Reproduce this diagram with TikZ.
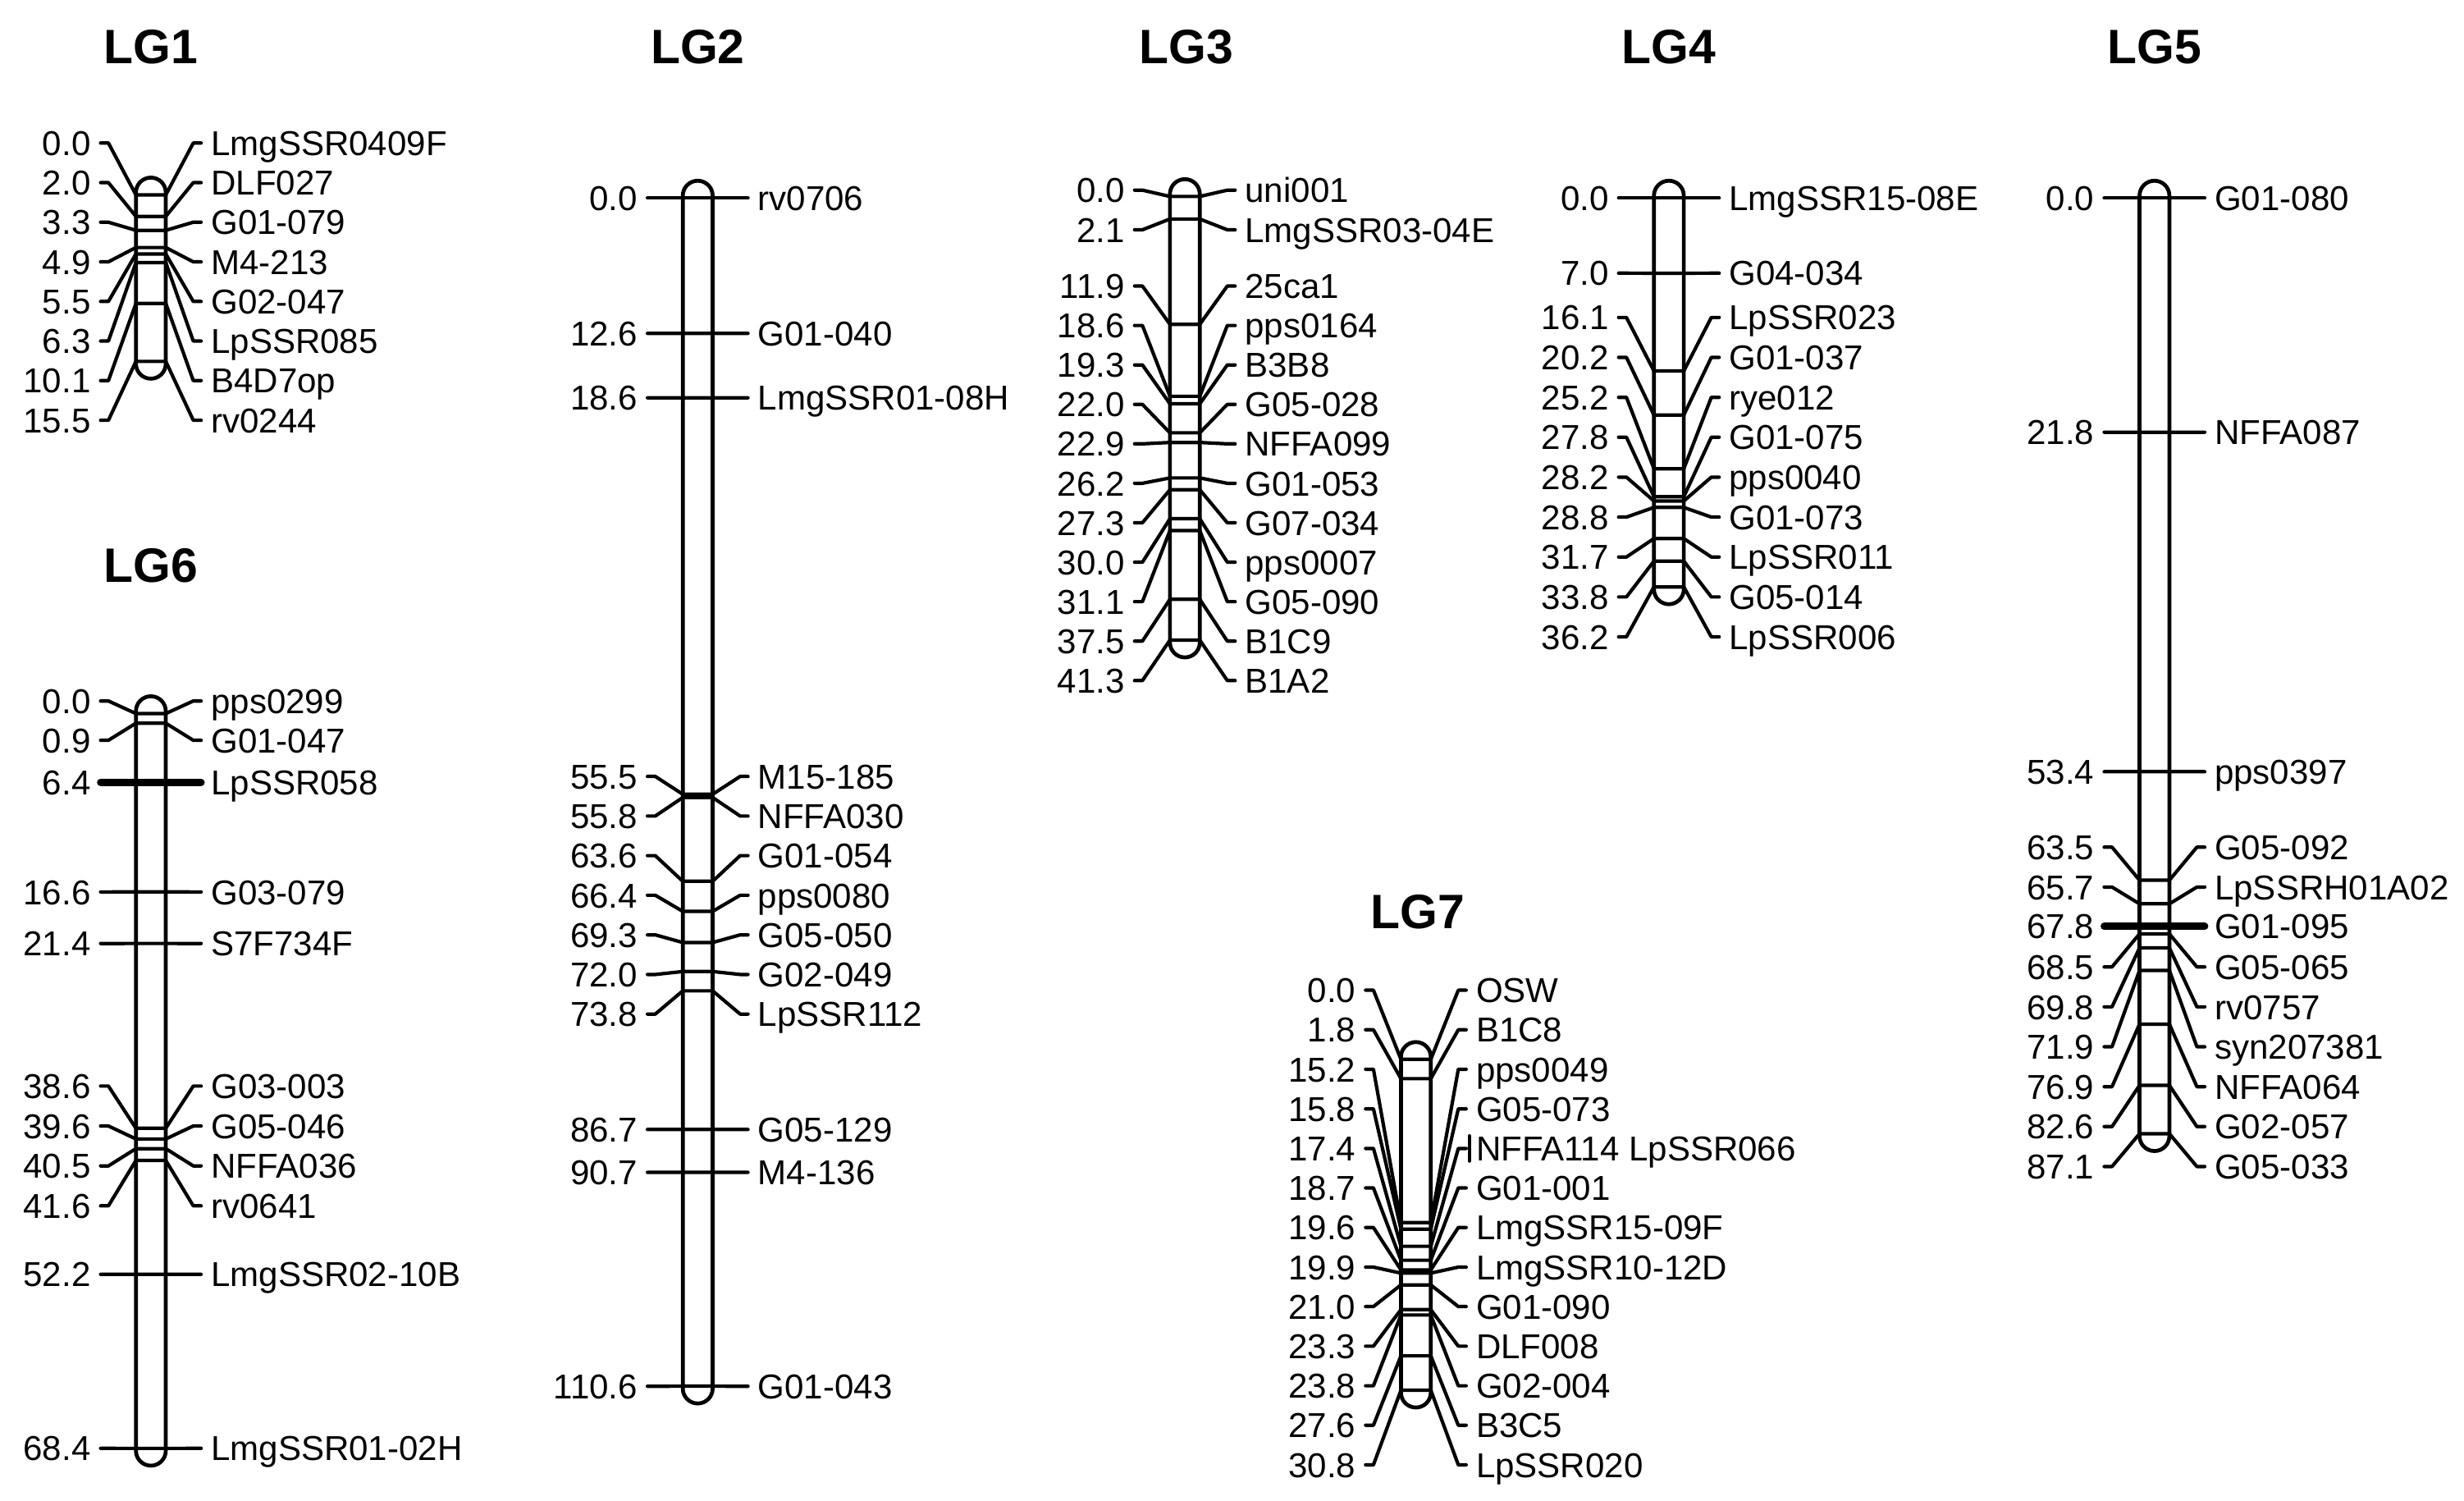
\documentclass[tikz,border=0pt]{standalone}
\usepackage{fontspec}
\setmainfont{Liberation Sans}
\usepackage{tikz}
\usetikzlibrary{calc}
\tikzset{
	chrbar/.style ={draw=black, line width=1.4pt, rounded corners=0.19cm},
	conn/.style   ={line width=1.25pt, line cap=round, line join=round},
	cmtxt/.style  ={inner sep=0pt, anchor=east, text height=9pt, text depth=0pt, font=\fontsize{12.5}{14}\selectfont},
	mktxt/.style  ={inner sep=0pt, anchor=west, text height=9pt, text depth=0pt, font=\fontsize{12.5}{14}\selectfont},
	lgtitle/.style={inner sep=0pt, font=\fontsize{17.5}{20}\selectfont\bfseries},
}
% #1 group name, #2 bar centre x, #3 y of 0 cM, #4 length in cM, #5 list cM/label y/marker
\newcommand{\lgchrom}[5]{
	\draw[chrbar] (#2-9.5,#3-11) rectangle (#2+9.5,#3+6.835*#4+11);
	\foreach \cmv/\ly/\mk [count=\i] in {#5}{
		\pgfmathsetmacro{\yy}{#3+6.835*\cmv}
		\node[cmtxt] (#1n\i) at (#2-38,\ly) {\cmv};
		\node[mktxt] (#1m\i) at (#2+38,\ly) {\mk};
		\coordinate (#1l\i) at (#2-9.5,\yy);
		\coordinate (#1r\i) at (#2+9.5,\yy);
		\draw[conn] (#1n\i.east) ++(6,0) -- ++(5,0) -- (#1l\i) -- (#1r\i) -- ($(#1m\i.west)+(-11,0)$) -- ++(5,0);
	}
}

\begin{document}
\begin{tikzpicture}[x=0.02cm, y=-0.02cm]
	\useasboundingbox (0,0) rectangle (1568,955);
	% group titles
	\node[lgtitle] (t1) at (96,30) {LG1};
	\node[lgtitle] (t2) at (444,30) {LG2};
	\node[lgtitle] (t3) at (755,30) {LG3};
	\node[lgtitle] (t4) at (1062,30) {LG4};
	\node[lgtitle] (t5) at (1371,30) {LG5};
	\node[lgtitle] (t6) at (96,360) {LG6};
	\node[lgtitle] (t7) at (902,580) {LG7};
	% linkage groups
	\lgchrom{LG1}{96}{124}{15.5}{0.0/91/LmgSSR0409F, 2.0/116.2/DLF027, 3.3/141.4/G01-079, 4.9/166.6/M4-213, 5.5/191.8/G02-047, 6.3/217/LpSSR085, 10.1/242.2/B4D7op, 15.5/267.4/rv0244}
	\lgchrom{LG2}{444}{126}{110.6}{0.0/126/rv0706, 12.6/212.1/G01-040, 18.6/253.1/LmgSSR01-08H, 55.5/494/M15-185, 55.8/519.2/NFFA030, 63.6/544.4/G01-054, 66.4/569.6/pps0080, 69.3/594.8/G05-050, 72.0/620/G02-049, 73.8/645.2/LpSSR112, 86.7/718.6/G05-129, 90.7/745.9/M4-136, 110.6/882/G01-043}
	\lgchrom{LG3}{754}{125}{41.3}{0.0/121/uni001, 2.1/146.2/LmgSSR03-04E, 11.9/182/25ca1, 18.6/207.1/pps0164, 19.3/232.2/B3B8, 22.0/257.3/G05-028, 22.9/282.4/NFFA099, 26.2/307.5/G01-053, 27.3/332.6/G07-034, 30.0/357.7/pps0007, 31.1/382.8/G05-090, 37.5/407.9/B1C9, 41.3/433/B1A2}
	\lgchrom{LG4}{1062}{126}{36.2}{0.0/126/LmgSSR15-08E, 7.0/173.8/G04-034, 16.1/202/LpSSR023, 20.2/227.4/G01-037, 25.2/252.8/rye012, 27.8/278.2/G01-075, 28.2/303.6/pps0040, 28.8/329/G01-073, 31.7/354.4/LpSSR011, 33.8/379.8/G05-014, 36.2/405.2/LpSSR006}
	\lgchrom{LG5}{1371}{126}{87.1}{0.0/126/G01-080, 21.8/275/NFFA087, 53.4/491/pps0397, 63.5/539/G05-092, 65.7/564.4/LpSSRH01A02, 67.8/589.4/G01-095, 68.5/615.2/G05-065, 69.8/640.6/rv0757, 71.9/666/syn207381, 76.9/691.4/NFFA064, 82.6/716.8/G02-057, 87.1/742.2/G05-033}
	\lgchrom{LG6}{96}{454}{68.4}{0.0/446/pps0299, 0.9/471/G01-047, 6.4/497.7/LpSSR058, 16.6/567.5/G03-079, 21.4/600.3/S7F734F, 38.6/691/G03-003, 39.6/716.4/G05-046, 40.5/741.8/NFFA036, 41.6/767.2/rv0641, 52.2/810.8/LmgSSR02-10B, 68.4/921.5/LmgSSR01-02H}
	\lgchrom{LG7}{901}{674}{30.8}{0.0/630/OSW, 1.8/655.2/B1C8, 15.2/680.3/pps0049, 15.8/705.5/G05-073, 17.4/730.7/NFFA114 LpSSR066, 18.7/755.8/G01-001, 19.6/781/LmgSSR15-09F, 19.9/806.2/LmgSSR10-12D, 21.0/831.3/G01-090, 23.3/856.5/DLF008, 23.8/881.7/G02-004, 27.6/906.8/B3C5, 30.8/932/LpSSR020}
	% heavy lines at LpSSR058 and G01-095, stacked markers at 17.4
	\draw[conn, line width=2.6pt] (LG6n3.east) ++(6,0) -- ($(LG6m3.west)+(-6,0)$);
	\draw[conn, line width=2.6pt] (LG5n6.east) ++(6,0) -- ($(LG5m6.west)+(-6,0)$);
	\draw[conn] ($(LG7m5.west)+(-4,-8)$) -- ++(0,16);
\end{tikzpicture}
\end{document}
